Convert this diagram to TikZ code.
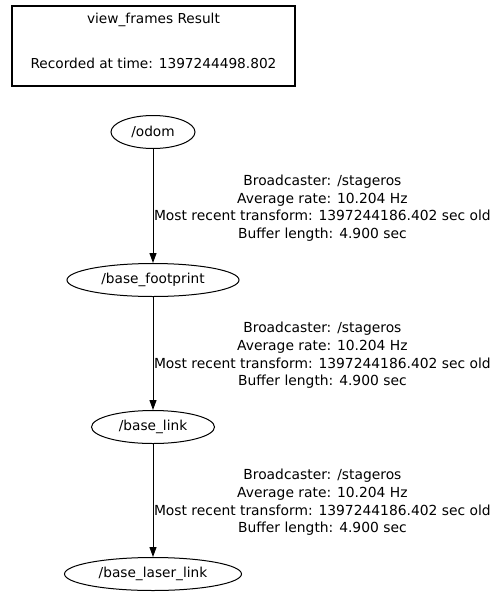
\documentclass[tikz,border=0pt]{standalone}
\usepackage{fontspec}
\setmainfont{DejaVu Sans}
\usetikzlibrary{shapes.geometric,arrows.meta}

\definecolor{dialinecolor}{rgb}{0.000000, 0.000000, 0.000000}
\definecolor{diafillcolor}{rgb}{1.000000, 1.000000, 1.000000}
\newcommand{\tfinfo}{Broadcaster: /stageros\\Average rate: 10.204 Hz\\Most recent transform: 1397244186.402 sec old\\Buffer length: 4.900 sec}

\tikzset{
  frame/.style={ellipse,draw=dialinecolor,fill=diafillcolor,line width=1pt,inner sep=0pt,minimum height=33pt},
  tfedge/.style={draw=dialinecolor,line width=1pt,-{Triangle[length=10pt,width=7pt]}},
  tflabel/.style={anchor=west,inner sep=0pt,align=center,color=dialinecolor,font=\fontsize{13.85}{17.6}\selectfont}
}

\begin{document}
\begin{tikzpicture}[x=1pt,y=-1pt,font=\fontsize{13.7}{17}\selectfont]
\useasboundingbox (0,0) rectangle (492,592);
% header
\node[draw=dialinecolor,line width=2pt,minimum width=283pt,minimum height=80pt,inner sep=0pt] (result) at (153.5,46) {};
\node[anchor=center,inner sep=0pt] (title) at (153.5,20) {view\_frames Result};
\node[anchor=center,inner sep=0pt] (stamp) at (153.5,63) {Recorded at time: 1397244498.802};
% frames
\node[frame,minimum width=84pt] (odom) at (153,132) {/odom};
\node[frame,minimum width=172pt] (base_footprint) at (153,280) {/base\_footprint};
\node[frame,minimum width=123pt] (base_link) at (153,427) {/base\_link};
\node[frame,minimum width=177pt] (base_laser_link) at (153,574) {/base\_laser\_link};
% transforms
\draw[tfedge] (odom) -- (base_footprint) node[midway,xshift=0.5pt,yshift=-2pt,tflabel] {\tfinfo};
\draw[tfedge] (base_footprint) -- (base_link) node[midway,xshift=0.5pt,yshift=-2pt,tflabel] {\tfinfo};
\draw[tfedge] (base_link) -- (base_laser_link) node[midway,xshift=0.5pt,yshift=-2pt,tflabel] {\tfinfo};
\end{tikzpicture}
\end{document}
